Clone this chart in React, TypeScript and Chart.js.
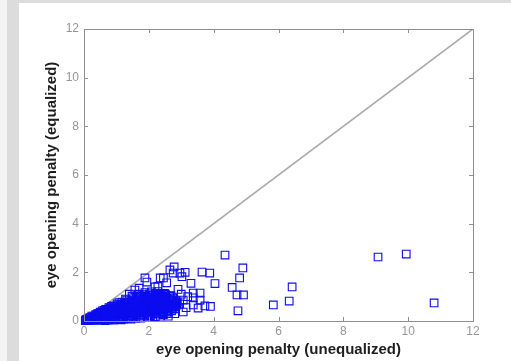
import { useEffect, useRef } from "react";
import { Chart, registerables } from "chart.js";

Chart.register(...registerables);

// Axis range shared by both penalties
const AXIS_MIN = 0;
const AXIS_MAX = 12;
const TICK_STEP = 2;

const xTitle = "eye opening penalty (unequalized)";
const yTitle = "eye opening penalty (equalized)";

// y = x reference line
const equalityLine: [number, number][] = [
  [0, 0],
  [12, 12],
];

// Bulk of the measurements, packed close to the origin
const denseCluster: [number, number][] = [
  [0.04, 0.02], [0.08, 0.05], [0.1, 0.02], [0.14, 0.07], [0.16, 0.03], [0.2, 0.1],
  [0.22, 0.04], [0.25, 0.15], [0.28, 0.06], [0.3, 0.2], [0.33, 0.1], [0.36, 0.26],
  [0.38, 0.04], [0.4, 0.16], [0.42, 0.3], [0.45, 0.08], [0.47, 0.22], [0.5, 0.36],
  [0.52, 0.12], [0.55, 0.28], [0.57, 0.42], [0.6, 0.06], [0.62, 0.18], [0.64, 0.33],
  [0.67, 0.48], [0.7, 0.1], [0.72, 0.24], [0.74, 0.4], [0.77, 0.55], [0.8, 0.08],
  [0.82, 0.18], [0.85, 0.32], [0.87, 0.46], [0.9, 0.62], [0.92, 0.12], [0.95, 0.25],
  [0.97, 0.4], [1.0, 0.54], [1.02, 0.7], [1.05, 0.1], [1.07, 0.2], [1.1, 0.33],
  [1.12, 0.47], [1.15, 0.62], [1.17, 0.78], [1.2, 0.14], [1.22, 0.26], [1.25, 0.4],
  [1.27, 0.55], [1.3, 0.7], [1.32, 0.86], [1.35, 0.12], [1.37, 0.22], [1.4, 0.35],
  [1.42, 0.5], [1.45, 0.64], [1.47, 0.8], [1.5, 0.95], [1.52, 0.17], [1.55, 0.29],
  [1.57, 0.43], [1.6, 0.58], [1.62, 0.73], [1.65, 0.88], [1.67, 1.02], [1.7, 0.2],
  [1.72, 0.34], [1.75, 0.48], [1.77, 0.63], [1.8, 0.78], [1.82, 0.93], [1.85, 1.08],
  [1.87, 0.24], [1.9, 0.39], [1.92, 0.54], [1.95, 0.68], [1.97, 0.83], [2.0, 0.98],
  [2.02, 1.12], [2.05, 0.22], [2.07, 0.35], [2.1, 0.5], [2.12, 0.64], [2.15, 0.78],
  [2.17, 0.92], [2.2, 1.06], [2.22, 0.28], [2.25, 0.42], [2.27, 0.57], [2.3, 0.71],
  [2.32, 0.85], [2.35, 0.99], [2.37, 1.13], [2.4, 0.3], [2.42, 0.46], [2.45, 0.61],
  [2.47, 0.75], [2.5, 0.89], [2.52, 1.03], [2.55, 0.36], [2.57, 0.51], [2.6, 0.66],
  [2.62, 0.8], [2.65, 0.95], [2.7, 0.42], [2.72, 0.58], [2.75, 0.73], [2.78, 0.87],
  [2.82, 0.5], [2.85, 0.65], [2.88, 0.78], [0.45, 0.3], [0.62, 0.44], [0.85, 0.6],
  [1.08, 0.76], [1.28, 0.9], [1.48, 1.02], [1.68, 1.1], [1.88, 1.17], [2.08, 1.2],
  [2.28, 1.21], [2.48, 1.14], [2.68, 1.04], [1.15, 0.05], [1.45, 0.08], [1.75, 0.12],
  [1.95, 0.15], [2.35, 0.2], [0.9, 0.04], [0.65, 0.02],
];

// Second pass of measurements filling the same region
const denseClusterFill: [number, number][] = [
  [0.06, 0.06], [0.12, 0.1], [0.18, 0.14], [0.24, 0.2], [0.27, 0.1], [0.32, 0.05],
  [0.34, 0.17], [0.39, 0.24], [0.41, 0.1], [0.44, 0.18], [0.48, 0.14], [0.5, 0.05],
  [0.53, 0.22], [0.56, 0.35], [0.58, 0.12], [0.6, 0.27], [0.63, 0.38], [0.66, 0.08],
  [0.68, 0.2], [0.7, 0.32], [0.72, 0.46], [0.75, 0.15], [0.78, 0.3], [0.79, 0.42],
  [0.82, 0.52], [0.84, 0.1], [0.86, 0.24], [0.88, 0.38], [0.9, 0.5], [0.93, 0.3],
  [0.95, 0.58], [0.98, 0.17], [1.0, 0.34], [1.02, 0.45], [1.04, 0.62], [1.06, 0.26],
  [1.09, 0.4], [1.11, 0.54], [1.13, 0.68], [1.16, 0.16], [1.18, 0.3], [1.2, 0.45],
  [1.23, 0.6], [1.25, 0.74], [1.27, 0.2], [1.29, 0.34], [1.32, 0.48], [1.34, 0.63],
  [1.36, 0.78], [1.39, 0.28], [1.41, 0.42], [1.44, 0.56], [1.46, 0.72], [1.48, 0.87],
  [1.5, 0.22], [1.53, 0.36], [1.55, 0.5], [1.58, 0.66], [1.6, 0.8], [1.62, 0.95],
  [1.64, 0.26], [1.66, 0.4], [1.69, 0.55], [1.71, 0.7], [1.73, 0.86], [1.76, 1.0],
  [1.78, 0.28], [1.8, 0.42], [1.83, 0.57], [1.85, 0.72], [1.88, 0.88], [1.9, 1.02],
  [1.92, 0.32], [1.94, 0.46], [1.97, 0.6], [1.99, 0.75], [2.01, 0.9], [2.04, 1.05],
  [2.06, 0.28], [2.09, 0.42], [2.11, 0.57], [2.14, 0.71], [2.16, 0.85], [2.19, 1.0],
  [2.21, 1.14], [2.23, 0.36], [2.26, 0.5], [2.29, 0.64], [2.31, 0.78], [2.33, 0.92],
  [2.36, 1.06], [2.39, 0.38], [2.41, 0.53], [2.44, 0.68], [2.46, 0.82], [2.49, 0.96],
  [2.51, 1.1], [2.54, 0.44], [2.56, 0.58], [2.59, 0.73], [2.61, 0.88], [2.64, 1.02],
  [2.67, 0.5], [2.69, 0.65], [2.71, 0.8], [2.74, 0.94], [2.77, 0.6], [2.8, 0.72],
  [2.83, 0.58], [2.86, 0.72], [2.6, 0.3], [2.45, 0.26], [2.2, 0.18], [2.0, 0.2],
  [1.6, 0.12], [1.3, 0.1], [0.95, 0.07], [0.75, 0.05],
];

// Third pass through the core of the group
const denseClusterCore: [number, number][] = [
  [0.2, 0.06], [0.3, 0.13], [0.36, 0.2], [0.43, 0.25], [0.46, 0.04], [0.52, 0.3],
  [0.55, 0.09], [0.58, 0.22], [0.64, 0.15], [0.66, 0.28], [0.69, 0.42], [0.73, 0.07],
  [0.76, 0.36], [0.8, 0.24], [0.83, 0.46], [0.87, 0.15], [0.89, 0.3], [0.92, 0.44],
  [0.96, 0.52], [0.99, 0.1], [1.01, 0.28], [1.04, 0.38], [1.08, 0.58], [1.1, 0.14],
  [1.14, 0.36], [1.17, 0.5], [1.19, 0.66], [1.22, 0.08], [1.24, 0.32], [1.28, 0.45],
  [1.31, 0.58], [1.33, 0.72], [1.38, 0.16], [1.4, 0.48], [1.43, 0.62], [1.46, 0.3],
  [1.49, 0.76], [1.51, 0.44], [1.54, 0.6], [1.56, 0.86], [1.59, 0.2], [1.61, 0.34],
  [1.63, 0.5], [1.66, 0.66], [1.7, 0.82], [1.72, 0.96], [1.74, 0.24], [1.78, 0.52],
  [1.81, 0.66], [1.84, 0.84], [1.86, 0.34], [1.89, 0.48], [1.91, 0.62], [1.93, 0.96],
  [1.96, 0.26], [1.98, 0.4], [2.0, 0.54], [2.03, 0.7], [2.05, 0.84], [2.08, 0.98],
  [2.1, 0.3], [2.13, 0.46], [2.15, 0.6], [2.18, 0.74], [2.21, 0.88], [2.24, 1.0],
  [2.26, 0.32], [2.28, 0.46], [2.31, 0.6], [2.34, 0.74], [2.37, 0.88], [2.4, 1.02],
  [2.43, 0.34], [2.46, 0.5], [2.49, 0.64], [2.52, 0.78], [2.55, 0.92], [2.58, 0.4],
  [2.63, 0.55], [2.66, 0.7], [2.7, 0.86], [2.74, 0.5], [2.79, 0.64], [2.84, 0.84],
];

// Looser points around the edge of the main group
const spreadPoints: [number, number][] = [
  [1.57, 1.27], [1.94, 1.6], [1.88, 1.77], [2.19, 1.4], [2.28, 1.42], [2.35, 1.77],
  [2.45, 1.77], [2.55, 1.57], [2.65, 2.1], [2.78, 2.22], [2.75, 1.97], [2.96, 1.97],
  [3.02, 1.82], [3.12, 2.0], [3.3, 1.55], [3.06, 0.86], [3.06, 0.37], [3.37, 0.95],
  [3.37, 0.66], [3.52, 0.53], [3.58, 0.86], [3.37, 1.15], [3.58, 1.15], [3.9, 0.6],
  [3.73, 0.62], [2.9, 1.3], [3.0, 1.1], [2.95, 0.7], [3.15, 0.55], [2.8, 0.3],
  [2.6, 0.2], [3.2, 1.0], [1.4, 1.1], [1.7, 1.35],
];

// Channels with large unequalized penalties
const outlierPoints: [number, number][] = [
  [3.64, 2.01], [3.88, 1.97], [4.04, 1.54], [4.35, 2.71], [4.9, 2.18], [4.8, 1.77],
  [4.57, 1.38], [4.72, 1.07], [4.92, 1.07], [4.75, 0.42], [5.84, 0.66], [6.33, 0.82],
  [6.42, 1.4], [9.07, 2.63], [9.94, 2.75], [10.8, 0.74],
];

const FONT = "'Liberation Sans', Arial, Helvetica, sans-serif";
const MARKER = "#0c0cf0";
const FRAME = "#8e8e8e";

const toXY = (pts: [number, number][]) => pts.map(([x, y]) => ({ x, y }));

// Box around the plot with short inward ticks on all four sides
const framePlugin = {
  id: "matlabFrame",
  afterDraw(chart: any) {
    const { ctx, chartArea, scales } = chart;
    const { left, right, top, bottom } = chartArea;
    const xs = scales.x;
    const ys = scales.y;
    const len = 4;
    ctx.save();
    ctx.strokeStyle = FRAME;
    ctx.lineWidth = 1;
    ctx.strokeRect(left + 0.5, top + 0.5, right - left, bottom - top);
    ctx.beginPath();
    for (let v = AXIS_MIN + TICK_STEP; v < AXIS_MAX; v += TICK_STEP) {
      const px = Math.round(xs.getPixelForValue(v)) + 0.5;
      ctx.moveTo(px, bottom);
      ctx.lineTo(px, bottom - len);
      ctx.moveTo(px, top);
      ctx.lineTo(px, top + len);
      const py = Math.round(ys.getPixelForValue(v)) + 0.5;
      ctx.moveTo(left, py);
      ctx.lineTo(left + len, py);
      ctx.moveTo(right, py);
      ctx.lineTo(right - len, py);
    }
    ctx.stroke();
    ctx.restore();
  },
};

export default function App() {
  const canvasRef = useRef<HTMLCanvasElement | null>(null);

  useEffect(() => {
    const canvas = canvasRef.current;
    if (!canvas) return;
    const markerSet = (data: [number, number][]) => ({
      type: "scatter" as const,
      data: toXY(data),
      pointStyle: "rect" as const,
      pointRadius: 5.4,
      pointBorderWidth: 1.1,
      pointBorderColor: MARKER,
      pointBackgroundColor: "rgba(0,0,0,0)",
      showLine: false,
      clip: false as any,
      order: 1,
    });

    const chart = new Chart(canvas, {
      type: "scatter",
      data: {
        datasets: [
          {
            type: "line",
            data: toXY(equalityLine),
            borderColor: "#a9a9a9",
            borderWidth: 1.6,
            pointRadius: 0,
            fill: false,
            order: 2,
          } as any,
          markerSet(denseCluster),
          markerSet(denseClusterFill),
          markerSet(denseClusterCore),
          markerSet(spreadPoints),
          markerSet(outlierPoints),
        ],
      },
      options: {
        responsive: false,
        animation: false,
        events: [],
        layout: { padding: { left: 0, top: 26, right: 38, bottom: 0 } },
        plugins: {
          legend: { display: false },
          tooltip: { enabled: false },
        },
        scales: {
          x: {
            type: "linear",
            min: AXIS_MIN,
            max: AXIS_MAX,
            grid: { display: false, drawTicks: false },
            border: { display: false },
            ticks: {
              stepSize: TICK_STEP,
              padding: 3,
              color: "#959595",
              font: { family: FONT, size: 12 },
              maxRotation: 0,
            },
            title: {
              display: true,
              text: xTitle,
              color: "#1e1e1e",
              font: { family: FONT, size: 15, weight: "bold" },
              padding: { top: 0, bottom: 2 },
            },
            afterFit: (s: any) => {
              s.height = 40;
            },
          },
          y: {
            type: "linear",
            min: AXIS_MIN,
            max: AXIS_MAX,
            grid: { display: false, drawTicks: false },
            border: { display: false },
            ticks: {
              stepSize: TICK_STEP,
              padding: 5,
              color: "#959595",
              font: { family: FONT, size: 12 },
            },
            title: {
              display: true,
              text: yTitle,
              color: "#1e1e1e",
              font: { family: FONT, size: 15, weight: "bold" },
              padding: { top: 24, bottom: 0 },
            },
            afterFit: (s: any) => {
              s.width = 65;
            },
          },
        },
      },
      plugins: [framePlugin],
    });

    return () => chart.destroy();
  }, []);

  return (
    <div
      style={{
        position: "fixed",
        left: 0,
        top: 0,
        width: 511,
        height: 361,
        background: "#ffffff",
        overflow: "hidden",
      }}
    >
      <div style={{ position: "absolute", left: 0, top: 0, width: 511, height: 3, background: "#dcdcdc" }} />
      <div style={{ position: "absolute", left: 0, top: 0, width: 7, height: 361, background: "#f3f3f3" }} />
      <div style={{ position: "absolute", left: 7, top: 0, width: 12, height: 361, background: "#dcdcdc" }} />
      <canvas
        ref={canvasRef}
        width={492}
        height={358}
        style={{ position: "absolute", left: 19, top: 3, width: 492, height: 358 }}
      />
    </div>
  );
}
